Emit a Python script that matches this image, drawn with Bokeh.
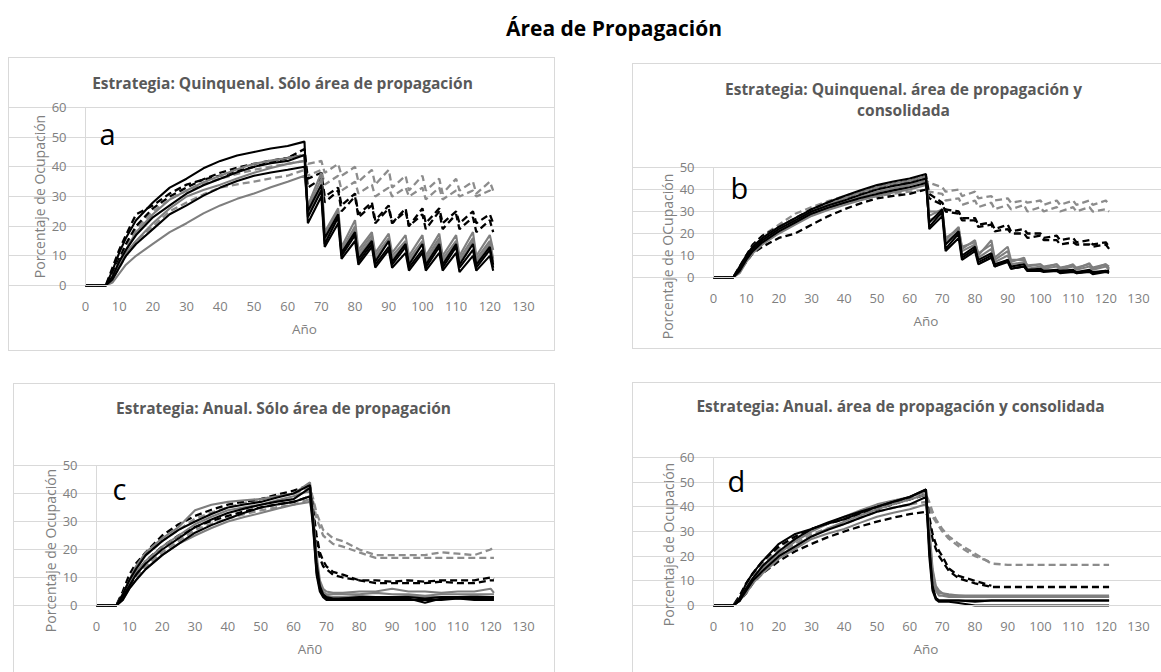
from bokeh.plotting import figure
from bokeh.models import Range1d, FixedTicker, Label, Div, Spacer
from bokeh.layouts import column, row
from bokeh.embed import file_html
from bokeh.resources import INLINE

NAN = float("nan")

# ---------------- data ----------------
X_TICKS = [0, 10, 20, 30, 40, 50, 60, 70, 80, 90, 100, 110, 120, 130]
Y_TICKS_60 = [0, 10, 20, 30, 40, 50, 60]
Y_TICKS_50 = [0, 10, 20, 30, 40, 50]

# years (quinquennial strategy: control every 5 years after year 65)
QX = [0, 6, 8, 10, 12, 15, 20, 25, 30, 35, 40, 45, 50, 55, 60, 65,
      66, 70, 71, 75, 76, 80, 81, 85, 86, 90, 91, 95, 96, 100, 101,
      105, 106, 110, 111, 115, 116, 120, 121]
# years (annual strategy)
AX = [0, 6, 8, 10, 12, 15, 20, 25, 30, 35, 40, 45, 50, 55, 60, 65,
      66, 67, 68, 69, 70, 72, 75, 80, 85, 90, 95, 100, 105, 110, 115, 120, 121]

# Panel a: Quinquenal, sólo área de propagación
A_K1 = [0, 0, 5, 11, 16, 22, 28, 33, 36, 39.5, 42, 43.8, 45, 46.2, 47, 48.5, 21, 30, 13, 21, 9, 15, 7, 13, 6, 12, 6, 11, 5, 11, 5, 11, 5, 11, 4.5, 10, 5, 10, 5]
A_K2 = [0, 0, 3, 8, 12, 17, 23, 27, 31, 33.8, 36, 38.2, 40, 41.2, 42, 44, 23, 32, 14, 23, 10, 17, 8, 14, 7, 13, 7, 13, 6, 12, 6, 13, 6, 13, 6, 12, 6, 12, 6]
A_K3 = [0, 0, 2, 6, 10, 14, 19, 24, 27, 30.3, 33, 35.2, 37, 38.1, 39, 40, 25, 34, 16, 24, 11, 18, 9, 15, 8, 15, 8, 14, 7, 14, 7, 14, 7, 14, 7, 14, 7, 13, 7]
A_G1 = [0, 0, 3, 8, 12, 18, 24, 29, 32, 34.8, 37, 39.2, 41, 42.1, 43, 44, 26, 36, 17, 25, 12, 20, 11, 17, 10, 16, 10, 15, 9, 15, 9, 16, 9, 15, 9, 16, 9, 15, 9]
A_G2 = [0, 0, 1, 4, 7, 10, 14, 18, 21, 24.3, 27, 29.2, 31, 33.1, 35, 37, 27, 38, 18, 26, 13, 22, 12, 18, 11, 17.5, 11, 17, 10, 17, 10, 17.5, 10, 17, 10, 18, 10, 17, 12]
A_G3 = [0, 0, 2, 7, 11, 15, 21, 26, 30, 32.2, 34, 36.1, 38, 39.6, 41, 42, 24, 33, 15, 24, 11, 19, 10, 16, 9, 15, 9, 14, 8, 14, 8, 15, 8, 14, 8, 15, 8, 14, 8]
A_D1 = [0, 0, 6, 12, 17, 24, 27, 31, 34, 35.7, 37, 38.6, 40, 41.6, 43, 46, 36, 38, 30, 33, 27, 31, 24, 28, 22, 27, 21, 26, 20, 24, 19, 25, 19, 24, 19, 23, 18, 22, 18]
A_D2 = [0, 0, 4, 9, 14, 20, 26, 30, 33, 35.8, 38, 39.7, 41, 42.1, 43, 44, 33, 36, 28, 32, 25, 30, 23, 27, 21, 26, 21, 25, 20, 26, 21, 26, 21, 25, 21, 25, 21, 24, 21]
A_E1 = [0, 0, 3, 8, 13, 19, 25, 29, 32, 34.2, 36, 37.6, 39, 40.1, 41, 42, 41, 42, 38, 41, 37, 40, 35, 39, 34, 39, 33, 37, 32, 37, 32, 36, 31, 36, 32, 35, 31, 35, 32]
A_E2 = [0, 0, 2, 6, 10, 15, 20, 25, 28, 30.7, 33, 34.1, 35, 36.1, 37, 39, 37, 39, 34, 37, 32, 35, 31, 34, 30, 33, 30, 33, 30, 33, 29, 33, 29, 32, 30, 32, 30, 32, 31]

# Panel b: Quinquenal, área de propagación y consolidada
B_K1 = [0, 0, 5, 10, 14, 18, 23, 27, 31, 34.2, 37, 39.7, 42, 43.6, 45, 47, 22, 28, 12, 18, 8, 12, 6, 9, 5, 7, 4, 5, 3, 3, 2.5, 3, 2, 2.5, 2, 2.5, 1.5, 2.5, 2]
B_K2 = [0, 0, 4, 9, 13, 17, 22, 26, 30, 32.7, 35, 37.6, 40, 41.6, 43, 45, 23, 30, 13, 20, 9, 13, 7, 10, 5, 8, 4, 5, 3, 3.5, 3, 3, 2.5, 3, 2, 3, 2, 3, 2.5]
B_K3 = [0, 0, 3, 8, 12, 16, 21, 25, 29, 31.7, 34, 36.1, 38, 39.6, 41, 43, 25, 31, 15, 21, 10, 14, 8, 11, 6, 8, 5, 6, 3.5, 4, 3, 3.5, 3, 3.5, 2.5, 3.5, 2.5, 3, 3]
B_G1 = [0, 0, 4, 9, 14, 18, 23, 27, 30, 33.2, 36, 38.7, 41, 42.6, 44, 46, 28, 31, 17, 23, 13, 17, 10, 17, 9, 14, 8, 8, 5.5, 6, 5, 6, 4.5, 5.5, 4.5, 6, 4.5, 6, 5]
B_G2 = [0, 0, 3, 8, 12, 16, 21, 25, 29, 31.7, 34, 36.6, 39, 40.6, 42, 44, 30, 30, 18, 22, 14, 16, 11, 15, 8, 12, 7, 9, 5, 6, 4.5, 6, 4, 6, 4, 6.5, 4, 6, 4]
B_G3 = [0, 0, 2, 7, 11, 15, 20, 24, 28, 30.7, 33, 35.1, 37, 38.6, 40, 42, 26, 29, 16, 21, 12, 15, 9, 13, 7, 10, 6, 7, 4, 5, 4, 5, 3.5, 5, 3.5, 5, 3.5, 5, 3.5]
B_D1 = [0, 0, 5, 10, 15, 19, 23, 27, 31, 33.7, 36, 38.6, 41, 42.6, 44, 46, 38, 34, 31, 30, 27, 27, 24, 25, 22, 24, 21, 22, 20, 20, 18, 19, 17, 18, 16, 17, 15, 16, 14]
B_D2 = [0, 0, 3, 7, 11, 14, 18, 20, 24, 27.8, 31, 33.7, 36, 37.1, 38, 40, 36, 33, 30, 29, 26, 26, 23, 24, 21, 22, 20, 20, 18, 19, 17, 17, 15, 16, 15, 15, 14, 15, 13]
B_E1 = [0, 0, 4, 9, 14, 19, 24, 29, 32, 34.7, 37, 39.1, 41, 42.1, 43, 44, 43, 41, 39, 40, 37, 39, 36, 37, 35, 36, 34, 35, 34, 35, 33, 35, 33, 35, 33, 35, 33, 35, 33]
B_E2 = [0, 0, 3, 8, 12, 17, 22, 26, 29, 31.7, 34, 35.6, 37, 38.1, 39, 40, 39, 38, 35, 36, 33, 35, 32, 34, 31, 33, 31, 33, 30, 32, 30, 32, 30, 32, 30, 32, 30, 31, 30]

# Panel c: Anual, sólo área de propagación
C_K1 = [0, 0, 3, 7, 11, 15, 20, 24, 28, 30.7, 33, 34.6, 36, 37.1, 38, 42, 30, 15, 7, 4, 3, 2.5, 2.5, 2.5, 2.5, 2.5, 2.5, 1, 2.5, 2.5, 2.5, 2.5, 2.5]
C_K2 = [0, 0, 4, 9, 13, 18, 23, 27, 30, 32.7, 35, 36.1, 37, 38.6, 40, 43, 28, 12, 6, 3.5, 2.5, 2, 2, 2, 2, 2, 2, 2, 2, 2.5, 2, 2, 2]
C_K3 = [0, 0, 2, 6, 9, 13, 18, 22, 26, 28.7, 31, 33.1, 35, 36.1, 37, 39, 27, 11, 5, 3, 2, 2, 2.5, 3, 3, 3, 3, 2.5, 3, 3, 3, 3, 3]
C_G1 = [0, 0, 4, 9, 14, 19, 24, 28, 34, 36, 37, 37.6, 38, 39, 40, 44, 32, 18, 9, 6, 5, 4.5, 4.5, 5, 5, 6, 5, 5, 4.5, 5, 5, 6, 4.5]
C_G2 = [0, 0, 2, 6, 9, 13, 18, 22, 25, 27.7, 30, 31.6, 33, 34.6, 36, 37, 30, 16, 8, 5, 4, 4, 4, 4, 4.5, 4, 4, 3.5, 4, 4, 4, 4, 4]
C_G3 = [0, 0, 3, 8, 12, 16, 21, 25, 29, 31.7, 34, 35.1, 36, 37.6, 39, 41, 29, 14, 7, 4, 3.5, 3, 3, 3.5, 3, 3, 3.5, 3, 3, 3, 3.5, 3, 3]
C_D1 = [0, 0, 5, 11, 15, 19, 25, 29, 32, 34.2, 36, 37.1, 38, 39.6, 41, 43, 34, 25, 19, 16, 14, 12, 11, 9, 9, 8.5, 9, 8.5, 9, 9, 9, 10, 9.5]
C_D2 = [0, 0, 3, 7, 11, 16, 21, 25, 28, 30.2, 32, 33.6, 35, 36.1, 37, 39, 32, 22, 17, 14, 13, 11, 10, 9, 8, 8, 8, 8, 8.5, 8, 8, 9, 9]
C_E1 = [0, 0, 4, 9, 13, 18, 23, 27, 31, 33.2, 35, 36.6, 38, 39.1, 40, 42, 38, 33, 30, 27, 26, 24, 23, 20, 18, 18, 18, 18, 19, 18.5, 18, 20, 21]
C_E2 = [0, 0, 2, 7, 10, 14, 19, 23, 27, 29.2, 31, 32.6, 34, 35.1, 36, 38, 37, 31, 28, 25, 24, 22, 21, 19, 17, 17, 17, 17, 17, 17, 17, 17, 17]

# Panel d: Anual, área de propagación y consolidada (NaN: the run merges with another)
D_K1 = [0, 0, 3, 9, 13, 18, 25, 29, 31, 33.2, 35, 37.6, 40, 42.1, 44, 47, 25, 8, 3, 2, 2, 2, 2, 1.5, 2, 2, 2, 2, 2, 2, 2, 2, 2]
D_K2 = [0, 0, 2, 7, 11, 16, 22, 27, 31, 33.7, 36, 38.1, 40, 42.1, 44, 47, 20, 6, 2.5, 1.5, 1.5, 1.5, 1, 0, 0, 0, 0, 0, 0, 0, 0, 0, 0]
D_K3 = [0, 0, 2, 6, 10, 14, 20, 24, 28, 30.7, 33, 35.6, 38, 39.6, 41, 44, 23, 7, 3, 2, 2, 2, 2, 2, 2, 2, 2, 2, 2, 2, 2, 2, 2]
D_G1 = [0, 0, 2, 6, 10, 15, 20, 24, 28, 31.2, 34, 36.6, 39, 41.1, 43, 45, 32, 15, 8, 6, 5, 4.5, 4, 4, 4, 4, 4, 4, 4, 4, 4, 4, 4]
D_G2 = [0, 0, 2, 5, 9, 13, 19, 23, 27, 29.2, 31, 33.6, 36, 37.6, 39, 41, 30, 14, 7, 5, 5, 4, 4, 3.5, 3.5, 3.5, 3.5, 3.5, 3.5, 3.5, 3.5, 3.5, 3.5]
D_G3 = [0, 0, 3, 7, 11, 16, 21, 26, 30, 33.2, 36, 38.6, 41, 42.6, 44, 46, 28, 12, 6, 4, 4, 3.5, 3.5, 3.5, 3.5, 3.5, 3.5, 3.5, 3.5, 3.5, 3.5, 3.5, 3.5]
D_D1 = [0, 0, 2, 5, 9, 13, 18, 22, 25, 27.7, 30, 32.1, 34, 35.6, 37, 38, 34, 27, 23, 20, 18, 14, 11, 9, 7.5, 7.5, 7.5, 7.5, 7.5, 7.5, 7.5, 7.5, 7.5]
D_D2 = [0, 0, 4, 9, 13, 18, 24, 28, 31, 33.2, 35, 37.1, 39, 41.1, 43, 45, 36, 29, 25, 22, 20, 15, 12, 10, 8, NAN, NAN, NAN, NAN, NAN, NAN, NAN, NAN]
D_E1 = [0, 0, 3, 8, 12, 17, 23, 27, 31, 33.2, 35, 37.6, 40, 41.6, 43, 45, 42, 38, 35, 33, 31, 28, 25, 21, 17, 16.5, 16.5, 16.5, 16.5, 16.5, 16.5, 16.5, 16.5]
D_E2 = [0, 0, 2, 7, 11, 15, 21, 25, 29, 31.2, 33, 35.6, 38, 39.6, 41, 42, 40, 36, 34, 32, 30, 27, 24, 20, 17.5, NAN, NAN, NAN, NAN, NAN, NAN, NAN, NAN]

# ---------------- style ----------------
FONT = "Open Sans"
GRID = "#d9d9d9"
TXT = "#7f7f7f"
STYLES = {
    "E": dict(line_color="#8c8c8c", line_width=2.3, line_dash="7 4"),
    "D": dict(line_color="#000000", line_width=2.3, line_dash="7 4"),
    "G": dict(line_color="#7f7f7f", line_width=2.1),
    "K": dict(line_color="#000000", line_width=2.1),
}


def shadow(sides):
    parts = {"t": "inset 0 1px 0 0 #d9d9d9", "b": "inset 0 -1px 0 0 #d9d9d9",
             "l": "inset 1px 0 0 0 #d9d9d9", "r": "inset -1px 0 0 0 #d9d9d9"}
    return ", ".join(parts[s] for s in sides)


def panel(w, h, frame, ymax, yticks, xs, series, titles, letter, ylabel, xlabel, sides):
    # frame: canvas pixels of x=0, x=130, y=0, y=ymax
    fx0, fx1, fy0, fy1 = frame
    kx = (fx1 - fx0) / 130.0
    ky = (fy0 - fy1) / float(ymax)
    xr = Range1d(-fx0 / kx, 130 + (w - fx1) / kx)
    yr = Range1d(-(h - fy0) / ky, ymax + fy1 / ky)

    def at(px, py):
        return (px - fx0) / kx, (fy0 - py) / ky

    p = figure(width=w, height=h, x_range=xr, y_range=yr,
               output_backend="svg", toolbar_location=None,
               min_border=0, min_border_left=0, min_border_right=0,
               min_border_top=0, min_border_bottom=0)
    p.styles = {"box-shadow": shadow(sides)}
    p.border_fill_color = None
    p.background_fill_color = None
    p.outline_line_color = None
    p.xgrid.visible = False
    p.ygrid.grid_line_color = GRID
    p.ygrid.grid_line_width = 1
    p.ygrid.bounds = (0, 130)
    p.xaxis.fixed_location = 0
    p.yaxis.fixed_location = 0
    p.xaxis.bounds = (0, 130)
    p.yaxis.bounds = (0, ymax)
    for ax in (p.xaxis[0], p.yaxis[0]):
        ax.axis_line_color = GRID
        ax.major_tick_line_color = None
        ax.minor_tick_line_color = None
        ax.major_label_text_color = TXT
        ax.major_label_text_font = FONT
        ax.major_label_text_font_size = "13px"
    p.xaxis.ticker = FixedTicker(ticks=X_TICKS)
    p.yaxis.ticker = FixedTicker(ticks=yticks)
    p.xaxis.major_label_standoff = 10
    p.yaxis.major_label_standoff = 13
    p.xaxis.axis_label = xlabel
    p.xaxis.axis_label_text_font = FONT
    p.xaxis.axis_label_text_font_size = "13.5px"
    p.xaxis.axis_label_text_font_style = "normal"
    p.xaxis.axis_label_text_color = TXT
    p.xaxis.axis_label_standoff = 6

    for key in ("E", "D", "G", "K"):
        for ys in series[key]:
            p.line(xs, ys, **STYLES[key])

    for text, px, py in titles:
        tx, ty = at(px, py)
        p.add_layout(Label(x=tx, y=ty, text=text, text_align="center", text_baseline="middle",
                           text_font=FONT, text_font_style="bold",
                           text_font_size="15.5px", text_color="#595959"))
    ltext, px, py = letter
    lx, ly = at(px, py)
    p.add_layout(Label(x=lx, y=ly, text=ltext, text_align="left", text_baseline="alphabetic",
                       text_font=FONT, text_font_size="29px", text_color="#000000"))
    ytext, px, py = ylabel
    yx, yy = at(px, py)
    p.add_layout(Label(x=yx, y=yy, text=ytext, angle=1.5707963, text_align="center",
                       text_baseline="middle", text_font=FONT,
                       text_font_size="14px", text_color=TXT))
    return p


pa = panel(547, 294, (77, 515, 228, 50), 60, Y_TICKS_60, QX,
           {"K": [A_K1, A_K2, A_K3], "G": [A_G1, A_G2, A_G3], "D": [A_D1, A_D2], "E": [A_E1, A_E2]},
           [("Estrategia: Quinquenal. Sólo área de propagación", 274, 25)],
           ("a", 91, 76), ("Porcentaje de Ocupación", 31, 139), "Año", "tblr")

pb = panel(529, 286, (81, 506, 214, 104), 50, Y_TICKS_50, QX,
           {"K": [B_K1, B_K2, B_K3], "G": [B_G1, B_G2, B_G3], "D": [B_D1, B_D2], "E": [B_E1, B_E2]},
           [("Estrategia: Quinquenal. área de propagación y", 271, 25),
            ("consolidada", 271, 46)],
           ("b", 98, 124), ("Porcentaje de OCupación", 35, 193), "Año", "tlb")

pc = panel(542, 289, (83, 510, 222, 82), 50, Y_TICKS_50, AX,
           {"K": [C_K1, C_K2, C_K3], "G": [C_G1, C_G2, C_G3], "D": [C_D1, C_D2], "E": [C_E1, C_E2]},
           [("Estrategia: Anual. Sólo área de propagación", 270, 24)],
           ("c", 99, 105), ("Porcentaje de Ocupación", 37, 167), "Añ0", "tlr")

pd_ = panel(529, 290, (81, 506, 223, 75), 60, Y_TICKS_60, AX,
            {"K": [D_K1, D_K2, D_K3], "G": [D_G1, D_G2, D_G3], "D": [D_D1, D_D2], "E": [D_E1, D_E2]},
            [("Estrategia: Anual. área de propagación y consolidada", 268, 23)],
            ("d", 95, 98), ("Porcentaje de Ocupación", 36, 162), "Año", "tl")

head = Div(text="<div style=\"width:1161px;text-align:center;padding-left:67px;box-sizing:border-box;"
                "font-family:'Open Sans';font-weight:bold;font-size:21px;color:#000;"
                "padding-top:13px;margin:0;\">Área de Propagación</div>",
           width=1161, height=57, margin=(0, 0, 0, 0))

row1 = row(Spacer(width=8, height=294), pa, Spacer(width=77, height=294),
           column(Spacer(width=529, height=6), pb, spacing=0), spacing=0)
row2 = row(Spacer(width=13, height=321),
           column(Spacer(width=542, height=32), pc, spacing=0),
           Spacer(width=77, height=321),
           column(Spacer(width=529, height=31), pd_, spacing=0), spacing=0)
layout = column(head, row1, row2, spacing=0)

open("out.html", "w").write(file_html(layout, INLINE))
